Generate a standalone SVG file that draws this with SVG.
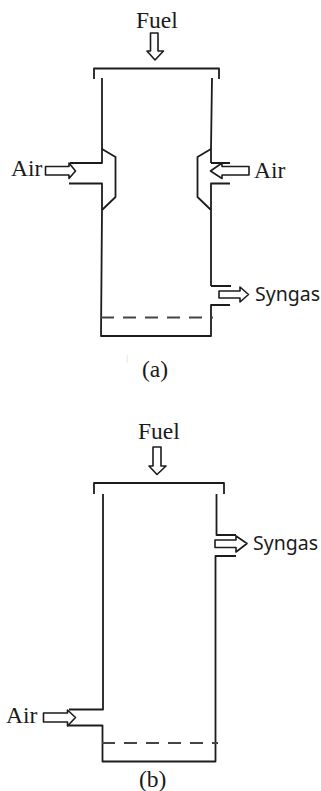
<svg xmlns="http://www.w3.org/2000/svg" width="321" height="791" viewBox="0 0 321 791">
<style>
.w{fill:none;stroke:#1c1c1c;stroke-width:1.8;stroke-linejoin:round}
.d{fill:none;stroke:#444;stroke-width:2;stroke-dasharray:13 9}
.a{fill:#fff;stroke:#1c1c1c;stroke-width:1.6;stroke-linejoin:round}
.s{font-family:"Liberation Serif",serif;font-size:23.500px;fill:#1a1a1a}
.c{font-family:"Noto Sans",sans-serif;font-size:19.500px;fill:#1a1a1a}
</style>
<rect width="321" height="791" fill="#fff"/>
<g id="reactor-a">
<path class="w" d="M94 79V68.500H219V79"/>
<path class="w" d="M102 78V163H70M69 183.500H102V210L101 336H211V305H230M211 286H231M211 286V210L211 183.500H230M211 163H230M211 163V149L212 78"/>
<path class="w" d="M102 149L115.500 157V197L102 210M211 149L197.500 157V197L211 210"/>
<path class="d" d="M101 317.500H213"/>
<rect x="126.500" y="355" width="1.500" height="8" fill="#eee"/>
</g>
<g id="reactor-b">
<path class="w" d="M94 494V483H224V494"/>
<path class="w" d="M103 494V709.500H69M68 725.500H102.500V761.500H215.500V556H236"/>
<path class="w" d="M216.500 494V535H236"/>
<path class="d" d="M102 743H218"/>
</g>
<g id="connectors">
<path id="fuel-a-arrow" class="a" d="M150.500 33H158V51H163.500L155 60L147 51H150.500Z"/>
<path id="air-a-left-arrow" class="a" d="M45.500 166.500H69V163L75.500 171L69 178.500V175H45.500Z"/>
<path id="air-a-right-arrow" class="a" d="M249 166.500H222V163L210.500 171L222 178.500V175H249Z"/>
<path id="syngas-a-arrow" class="a" d="M219 291H240V287L248.500 294.500L240 302V298H219Z"/>
<path id="fuel-b-arrow" class="a" d="M153 447H161V466H166L157 474.500L149 466H153Z"/>
<path id="syngas-b-arrow" class="a" d="M215 540H236V536L247 543.500L236 552V547.500H215Z"/>
<path id="air-b-arrow" class="a" d="M43.500 713H67.500V710L75.500 717.500L67.500 726V722H43.500Z"/>
</g>
<g id="labels">
<text class="s" x="136" y="28">Fuel</text>
<text class="s" x="11" y="176">Air</text>
<text class="s" x="254" y="178">Air</text>
<text class="c" x="255" y="301">Syngas</text>
<text class="s" x="142" y="377">(a)</text>
<text class="s" x="138" y="439">Fuel</text>
<text class="c" x="253" y="550">Syngas</text>
<text class="s" x="6" y="723">Air</text>
<text class="s" x="139" y="787">(b)</text>
</g>
</svg>
